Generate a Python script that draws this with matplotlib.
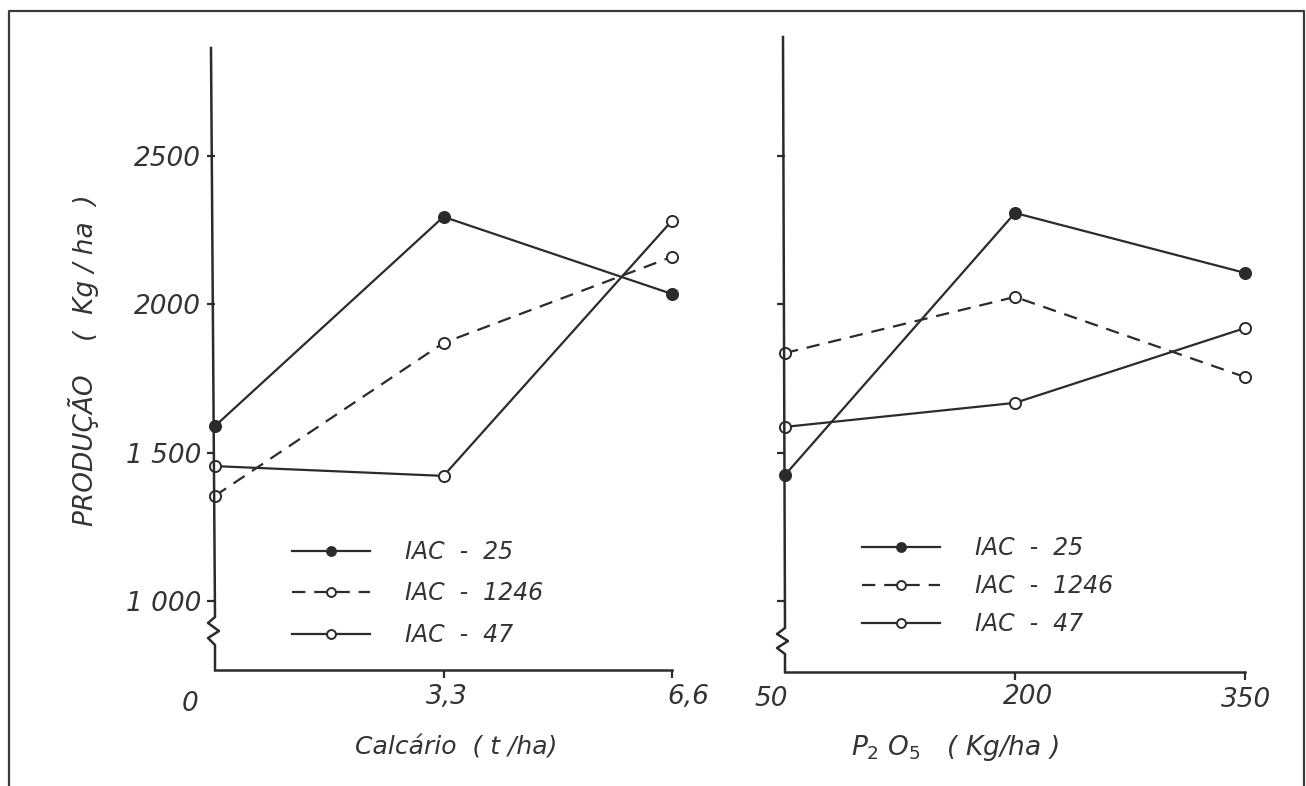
import matplotlib
matplotlib.use("Agg")
import matplotlib.pyplot as plt
import matplotlib.transforms as mtransforms
from matplotlib.lines import Line2D

# x levels of the two experiments
calcario = [0, 3.3, 6.6]
calcario_labels = ["0", "3,3", "6,6"]
p2o5 = [50, 200, 350]
p2o5_labels = ["50", "200", "350"]

# production (kg/ha)
iac25_calc = [1590, 2295, 2035]
iac1246_calc = [1355, 1870, 2160]
iac47_calc = [1455, 1422, 2282]

iac25_p = [1425, 2308, 2106]
iac1246_p = [1836, 2025, 1755]
iac47_p = [1587, 1668, 1920]

varieties = ["IAC - 25", "IAC - 1246", "IAC - 47"]
yticks = [1000, 1500, 2000, 2500]
ytick_labels = ["1 000", "1 500", "2000", "2500"]

ink = "#2b2b2b"
W, H = 1306, 786

plt.rcParams["font.family"] = ["DejaVu Sans"]
plt.rcParams["mathtext.fontset"] = "dejavusans"

fig = plt.figure(figsize=(W / 100, H / 100), dpi=100)
fig.patch.set_facecolor("white")

# pixel coords of the reference -> figure
pix = mtransforms.Affine2D().scale(1 / W, -1 / H).translate(0, 1) + fig.transFigure


def box(l, b, r, t):
    return [l / W, 1 - b / H, (r - l) / W, (b - t) / H]


ax1 = fig.add_axes(box(215, 670, 672, 50))
ax2 = fig.add_axes(box(785, 672, 1245, 37))
ax1.set_ylim(768, 2857)
ax2.set_ylim(761, 2901)
ax1.set_xlim(0, 6.6)
ax2.set_xlim(50, 350)

styles = [
    dict(ls="-", marker="o", mfc=ink, mec=ink),
    dict(ls=(0, (6, 4)), marker="o", mfc="white", mec=ink),
    dict(ls="-", marker="o", mfc="white", mec=ink),
]

for ax, xs, series in [(ax1, calcario, [iac25_calc, iac1246_calc, iac47_calc]),
                       (ax2, p2o5, [iac25_p, iac1246_p, iac47_p])]:
    for ys, st, name in zip(series, styles, varieties):
        ax.plot(xs, ys, color=ink, lw=1.6, ms=8, mew=1.4, label=name,
                clip_on=False, zorder=3, **st)
    for s in ["top", "right", "left"]:
        ax.spines[s].set_visible(False)
    ax.spines["bottom"].set_color(ink)
    ax.spines["bottom"].set_linewidth(1.8)
    ax.set_facecolor("none")
    ax.set_yticks(yticks)
    ax.tick_params(axis="both", direction="out", color=ink, width=1.6,
                   labelcolor="#333333", labelsize=19)
    ax.tick_params(axis="y", length=6, pad=4)
    ax.tick_params(axis="x", length=6, pad=4)

ax1.set_yticklabels(ytick_labels, fontstyle="italic")
ax2.set_yticklabels([])
ax1.set_xticks(calcario)
ax1.set_xticklabels(calcario_labels, fontstyle="italic")
ax2.set_xticks(p2o5)
ax2.set_xticklabels(p2o5_labels, fontstyle="italic")
ax1.xaxis.get_major_ticks()[0].tick1line.set_visible(False)
ax2.xaxis.get_major_ticks()[0].tick1line.set_visible(False)

# hand-placed tick labels
for ax, shifts in [(ax1, [(-25, -7), (3, 0), (16, 0)]),
                   (ax2, [(-14, 0), (13, 2), (1, -1)])]:
    for lab, (dx, dy) in zip(ax.get_xticklabels(), shifts):
        lab.set_transform(lab.get_transform() +
                          mtransforms.ScaledTranslation(dx / 100, dy / 100, fig.dpi_scale_trans))

# y axes with break symbol
left_axis = [(211, 48), (215, 617), (208, 623), (219, 631), (208, 638), (215, 645), (215, 670)]
right_axis = [(783, 37), (785, 628), (777, 634), (788, 641), (777, 648), (785, 654), (785, 672)]
for pts in (left_axis, right_axis):
    fig.add_artist(Line2D([p[0] for p in pts], [p[1] for p in pts], color=ink,
                          lw=1.8, transform=pix))

# outer frame of the scanned page
fig.add_artist(Line2D([9, 9, 1304, 1304], [786, 11, 11, 786], color="#3a3a3a",
                      lw=1.6, transform=pix))

ax1.set_ylabel("PRODUÇÃO    (  Kg / ha  )", fontsize=19, fontstyle="italic",
               color="#333333")
ax1.yaxis.set_label_coords(-0.253, 0.5)

ax1.set_xlabel("Calcário  ( t /ha)", fontsize=18, fontstyle="italic", color="#333333")
ax1.xaxis.set_label_coords(0.527, -0.105)
ax2.set_xlabel(r"$P_{2}\ O_{5}$   ( Kg/ha )", fontsize=19, fontstyle="italic",
               color="#333333")
ax2.xaxis.set_label_coords(0.37, -0.096)

for ax, anchor, spacing in [(ax1, (292, 540), 0.74), (ax2, (862, 536), 0.6)]:
    handles, labels = ax.get_legend_handles_labels()
    leg = ax.legend(handles, [l.replace(" - ", "  -  ") for l in labels],
                    loc="upper left", bbox_to_anchor=(anchor[0] / W, 1 - anchor[1] / H),
                    bbox_transform=fig.transFigure, frameon=False, borderpad=0,
                    borderaxespad=0, handlelength=3.3, handletextpad=1.5,
                    labelspacing=spacing, markerscale=0.8,
                    prop=dict(size=17, style="italic"))
    for t in leg.get_texts():
        t.set_color("#333333")

fig.savefig("out.png", dpi=100, facecolor="white")
